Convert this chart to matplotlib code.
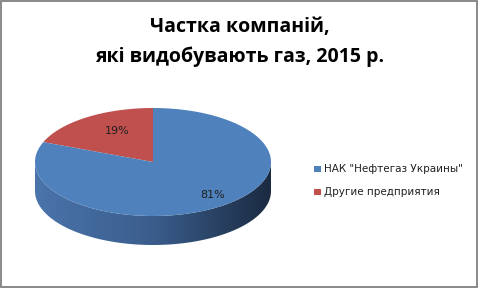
import numpy as np
import matplotlib
matplotlib.use('Agg')
import matplotlib.pyplot as plt
from matplotlib.patches import Polygon, Rectangle
from matplotlib.colors import LinearSegmentedColormap

# данные
labels = ['НАК "Нефтегаз Украины"', 'Другие предприятия']
shares = [81, 19]
colors = ['#4f81bd', '#c0504d']
title = 'Частка компаній,\nякі видобувають газ, 2015 р.'

W, H = 479, 288
fig = plt.figure(figsize=(W / 100, H / 100), dpi=100)
ax = fig.add_axes([0, 0, 1, 1])
ax.set_xlim(0, W)
ax.set_ylim(H, 0)
ax.axis('off')

# геометрия "3D" круга
cx, cy, rx, ry, depth = 153, 162, 118, 54, 29


def arc(t0, t1, dy=0, n=200):
    t = np.radians(np.linspace(t0, t1, n))
    return np.column_stack([cx + rx * np.cos(t), cy + dy - ry * np.sin(t)])


# боковая стенка (нижняя половина, с градиентом)
side = np.vstack([arc(180, 360), arc(360, 180, dy=depth)])
side_patch = Polygon(side, closed=True, facecolor='none', edgecolor='none')
ax.add_patch(side_patch)
cmap = LinearSegmentedColormap.from_list('side', ['#4b74ab', '#3a5d8c', '#1b2b42'])
grad = np.linspace(0, 1, 256).reshape(1, -1)
im = ax.imshow(grad, cmap=cmap, aspect='auto',
               extent=(cx - rx, cx + rx, cy + ry + depth, cy - 5), zorder=2)
im.set_clip_path(side_patch)

# верхняя грань
start = 90
fracs = np.array(shares[::-1], dtype=float) / sum(shares)
cols = colors[::-1]
text_pos = []
for f, c in zip(fracs, cols):
    end = start + 360 * f
    pts = np.vstack([[cx, cy], arc(start, end)])
    ax.add_patch(Polygon(pts, closed=True, facecolor=c, edgecolor='none', zorder=3))
    mid = np.radians((start + end) / 2)
    text_pos.append((cx + 12 + 0.72 * rx * np.cos(mid), cy + 1 - 0.72 * ry * np.sin(mid)))
    start = end

for (x, y), s in zip(text_pos, shares[::-1]):
    ax.text(x, y, f'{s}%', ha='center', va='center', fontsize=8,
            color='#202020', family='DejaVu Sans', zorder=4)

ax.text(240, 42, title, ha='center', va='center', fontsize=14,
        fontweight='bold', family='Open Sans', linespacing=1.6)

# легенда
for i, (lab, c) in enumerate(zip(labels, colors)):
    y = 168.5 + 23.5 * i
    ax.add_patch(Rectangle((314, y - 3), 7, 6, facecolor=c, edgecolor='none'))
    ax.text(324, y, lab, ha='left', va='center', fontsize=7.5,
            family='DejaVu Sans', color='#202020')

# рамка
ax.add_patch(Rectangle((0.75, 0.75), W - 2.5, H - 1.75, facecolor='none',
                       edgecolor='#808080', linewidth=1.3))

fig.savefig('out.png', dpi=100)
